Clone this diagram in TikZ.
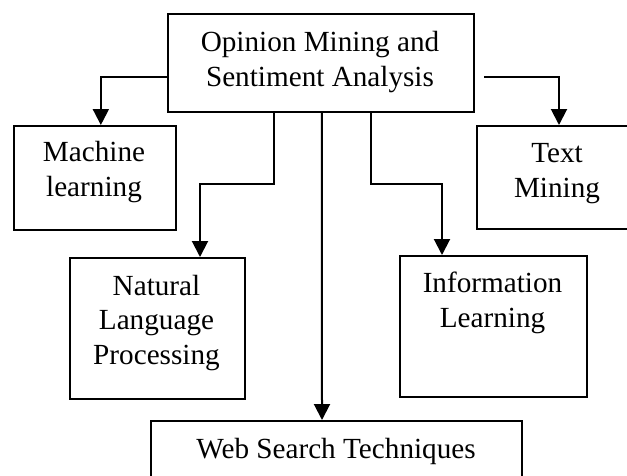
\documentclass[tikz,border=0pt]{standalone}
\usepackage{fontspec}
\setmainfont{Liberation Serif}
\usetikzlibrary{arrows.meta}
\tikzset{
  box/.style={draw, line width=2pt, inner sep=0pt, anchor=north west},
  lbl/.style={font=\fontsize{29.2}{34.5}\selectfont, align=center, inner sep=0pt, anchor=base},
  link/.style={line width=2pt, -{Triangle[width=16pt,length=16pt]}},
}
\begin{document}
\begin{tikzpicture}[x=1pt,y=-1pt]
  \useasboundingbox (0,0) rectangle (627,475);
  \clip (0,0) rectangle (627,475);

  % boxes
  \node[box, minimum width=306.5pt, minimum height=98pt] (top) at (166.7,13) {};
  \node[box, minimum width=162.3pt, minimum height=104pt] (ml)  at (12.7,125) {};
  \node[box, minimum width=164pt,   minimum height=103pt] (tm)  at (476,125) {};
  \node[box, minimum width=175pt,   minimum height=141pt] (nlp) at (69,257) {};
  \node[box, minimum width=187pt,   minimum height=141pt] (il)  at (399,255) {};
  \node[box, minimum width=371pt,   minimum height=80pt]  (web) at (150,420) {};

  % labels (anchored at the baseline of their last line)
  \node[lbl] (toptxt) at (320,86)   {Opinion Mining and\\Sentiment Analysis};
  \node[lbl] (mltxt)  at (94,196)   {Machine\\learning};
  \node[lbl] (tmtxt)  at (557,197)  {Text\\Mining};
  \node[lbl] (nlptxt) at (156.5,364){Natural\\Language\\Processing};
  \node[lbl] (iltxt)  at (492.5,327){Information\\Learning};
  \node[lbl] (webtxt) at (336,458)  {Web Search Techniques};

  % connectors
  \draw[link] ([yshift=-14pt]top.west) -| ([xshift=6pt]ml.north);
  \draw[link] ([xshift=9pt,yshift=-14pt]top.east) -| (tm.north);
  \draw[link] ([xshift=-47pt]top.south) |- ([xshift=42.5pt,yshift=73pt]nlp.north) -- ([xshift=42.5pt]nlp.north);
  \draw[link] ([xshift=50pt]top.south) |- ([xshift=-51.5pt,yshift=71pt]il.north) -- ([xshift=-51.5pt]il.north);
  \draw[link] ([xshift=1pt]top.south) -- ([xshift=-14.5pt]web.north);
\end{tikzpicture}
\end{document}
